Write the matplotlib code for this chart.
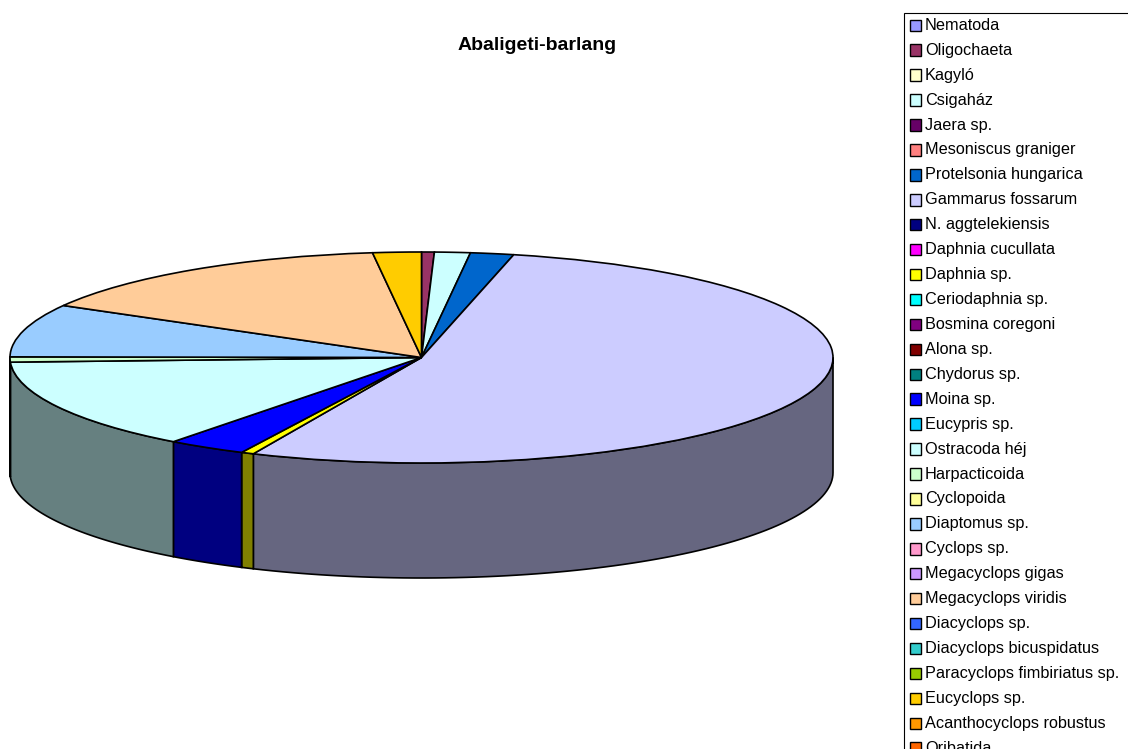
import numpy as np
import matplotlib
matplotlib.use('Agg')
import matplotlib.pyplot as plt
from matplotlib.patches import Wedge, Polygon, Rectangle
from matplotlib.transforms import Affine2D
from matplotlib.colors import to_rgb

# taxa, relative share (%) and Excel palette colours
taxa = ['Nematoda', 'Oligochaeta', 'Kagyló', 'Csigaház', 'Jaera sp.',
        'Mesoniscus graniger', 'Protelsonia hungarica', 'Gammarus fossarum',
        'N. aggtelekiensis', 'Daphnia cucullata', 'Daphnia sp.',
        'Ceriodaphnia sp.', 'Bosmina coregoni', 'Alona sp.', 'Chydorus sp.',
        'Moina sp.', 'Eucypris sp.', 'Ostracoda héj', 'Harpacticoida',
        'Cyclopoida', 'Diaptomus sp.', 'Cyclops sp.', 'Megacyclops gigas',
        'Megacyclops viridis', 'Diacyclops sp.', 'Diacyclops bicuspidatus',
        'Paracyclops fimbiriatus sp.', 'Eucyclops sp.',
        'Acanthocyclops robustus', 'Oribatida']
share = [0, 0.5, 0, 1.4, 0,
         0, 1.7, 53.1,
         0, 0, 0.5,
         0, 0, 0, 0,
         3.1, 0, 14.0, 0.8,
         0, 8.1, 0, 0,
         14.9, 0, 0,
         0, 1.9,
         0, 0]
colors = ['#9999FF', '#993366', '#FFFFCC', '#CCFFFF', '#660066',
          '#FF8080', '#0066CC', '#CCCCFF', '#000080', '#FF00FF',
          '#FFFF00', '#00FFFF', '#800080', '#800000', '#008080',
          '#0000FF', '#00CCFF', '#CCFFFF', '#CCFFCC', '#FFFF99',
          '#99CCFF', '#FF99CC', '#CC99FF', '#FFCC99', '#3366FF',
          '#33CCCC', '#99CC00', '#FFCC00', '#FF9900', '#FF6600']

W, H = 1128, 749
fig = plt.figure(figsize=(W / 100, H / 100), dpi=100)
ax = fig.add_axes([0, 0, 1, 1])
ax.set_xlim(0, W)
ax.set_ylim(H, 0)
ax.axis('off')

# pie geometry in pixels
cx, cy = 421.5, 357.5
rx, ry = 411.5, 105.5
depth = 115

frac = np.array(share) / np.sum(share)
edges = 90 - 360 * np.concatenate([[0], np.cumsum(frac)])
pie_tf = Affine2D().scale(rx, -ry).translate(cx, cy) + ax.transData

for i, f in enumerate(frac):
    if f == 0:
        continue
    hi, lo = edges[i], edges[i + 1]
    # visible front wall
    s_lo, s_hi = max(lo, -180), min(hi, 0)
    if s_lo < s_hi:
        t = np.radians(np.linspace(s_lo, s_hi, 80))
        xs = cx + rx * np.cos(t)
        ys = cy - ry * np.sin(t)
        pts = np.concatenate([np.column_stack([xs, ys]),
                              np.column_stack([xs[::-1], ys[::-1] + depth])])
        dark = tuple(c * 0.5 for c in to_rgb(colors[i]))
        ax.add_patch(Polygon(pts, closed=True, facecolor=dark,
                             edgecolor='black', lw=1.2, zorder=1))
    ax.add_patch(Wedge((0, 0), 1, lo, hi, transform=pie_tf,
                       facecolor=colors[i], edgecolor='black', lw=1.2,
                       zorder=2))

ax.text(537, 45, 'Abaligeti-barlang', ha='center', va='center',
        fontsize=14, fontweight='bold', family='Liberation Sans')

# legend box (runs past the lower and right edges)
ax.add_patch(Rectangle((904, 13), 260, 780, facecolor='white',
                       edgecolor='black', lw=0.8, zorder=3))
for k, (name, col) in enumerate(zip(taxa, colors)):
    y = 25.3 + k * 24.93
    ax.add_patch(Rectangle((909.5, y - 5.8), 11.5, 11.5, facecolor=col,
                           edgecolor='black', lw=1.0, zorder=4))
    ax.text(925, y, name, ha='left', va='center', fontsize=11.7,
            family='Liberation Sans', zorder=4)

fig.savefig('out.png', dpi=100)
